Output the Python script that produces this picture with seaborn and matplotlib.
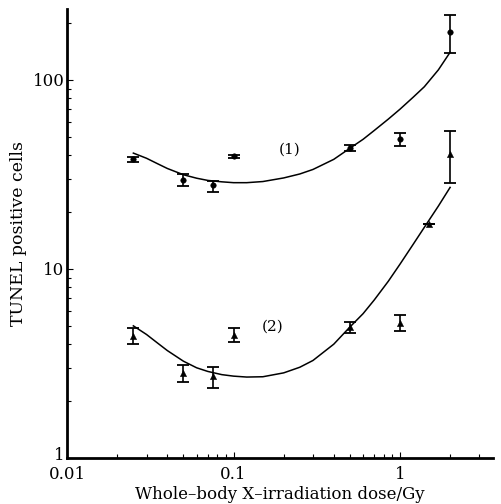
import matplotlib
matplotlib.use('Agg')
import matplotlib.pyplot as plt
import matplotlib.transforms as mtransforms
import seaborn as sns
import pandas as pd
from matplotlib.ticker import LogLocator, NullFormatter, FixedLocator, FixedFormatter

# valores
dose = [0.025, 0.05, 0.075, 0.1, 0.5, 1.0, 2.0]
serie1 = [38.0, 29.6, 27.8, 39.5, 43.7, 48.7, 180.0]
serie1_lo = [37.0, 27.5, 25.6, 38.8, 42.2, 44.8, 139.0]
serie1_hi = [39.0, 31.8, 29.2, 40.2, 45.2, 52.5, 221.0]

dose2 = [0.025, 0.05, 0.075, 0.1, 0.5, 1.0, 1.5, 2.0]
serie2 = [4.4, 2.82, 2.72, 4.48, 4.93, 5.18, 17.3, 40.6]
serie2_lo = [4.0, 2.52, 2.35, 4.11, 4.59, 4.70, 17.3, 28.5]
serie2_hi = [4.9, 3.10, 3.03, 4.87, 5.24, 5.71, 17.3, 53.7]

# curvas ajustadas
curva_x = [0.025, 0.03, 0.035, 0.04, 0.05, 0.06, 0.07, 0.085, 0.1, 0.12, 0.15, 0.2,
           0.25, 0.3, 0.4, 0.5, 0.6, 0.7, 0.85, 1.0, 1.2, 1.4, 1.7, 2.0]
curva1_y = [41.0, 38.5, 36.0, 34.0, 31.5, 30.2, 29.4, 28.9, 28.6, 28.6, 29.0, 30.3,
            31.8, 33.6, 38.0, 43.5, 48.5, 54.0, 62.0, 70.0, 81.0, 92.0, 113.0, 140.0]
curva2_y = [5.0, 4.5, 4.05, 3.7, 3.25, 3.0, 2.87, 2.76, 2.71, 2.68, 2.69, 2.82,
            3.02, 3.28, 4.0, 4.93, 5.8, 6.85, 8.6, 10.6, 13.5, 16.6, 21.5, 27.0]

plt.rcParams['font.family'] = ['DejaVu Serif']

fig = plt.figure(figsize=(5.01, 5.04), dpi=100)
ax = fig.add_axes([0.134, 0.0913, 0.85, 0.8907])

df_c = pd.DataFrame({'x': curva_x + curva_x,
                     'y': curva1_y + curva2_y,
                     'serie': ['1'] * len(curva_x) + ['2'] * len(curva_x)})
sns.lineplot(data=df_c, x='x', y='y', units='serie', estimator=None,
             color='black', lw=1.1, ax=ax)

ax.errorbar(dose, serie1,
            yerr=[[a - b for a, b in zip(serie1, serie1_lo)], [b - a for a, b in zip(serie1, serie1_hi)]],
            fmt='none', ecolor='black', elinewidth=1.2, capsize=4.5, capthick=1.3)
ax.errorbar(dose2, serie2,
            yerr=[[a - b for a, b in zip(serie2, serie2_lo)], [b - a for a, b in zip(serie2, serie2_hi)]],
            fmt='none', ecolor='black', elinewidth=1.2, capsize=4.5, capthick=1.3)

sns.scatterplot(x=dose, y=serie1, marker='o', color='black', s=16, edgecolor='black', ax=ax)
sns.scatterplot(x=dose2, y=serie2, marker='^', color='black', s=20, edgecolor='black', ax=ax)

ax.set_xscale('log')
ax.set_yscale('log')
ax.set_xlim(0.01, 3.62)
ax.set_ylim(1, 237)

ax.xaxis.set_major_locator(FixedLocator([0.01, 0.1, 1]))
ax.xaxis.set_major_formatter(FixedFormatter(['0.01', '0.1', '1']))
ax.yaxis.set_major_locator(FixedLocator([1, 10, 100]))
ax.yaxis.set_major_formatter(FixedFormatter(['1', '10', '100']))
ax.xaxis.set_minor_locator(LogLocator(base=10, subs=range(2, 10)))
ax.yaxis.set_minor_locator(LogLocator(base=10, subs=range(2, 10)))
ax.xaxis.set_minor_formatter(NullFormatter())
ax.yaxis.set_minor_formatter(NullFormatter())
ax.tick_params(which='both', direction='in', width=0.8, labelsize=12)
ax.tick_params(axis='x', pad=6)
ax.tick_params(axis='y', pad=2)
ax.tick_params(which='major', length=4)
ax.tick_params(which='minor', length=3)

for s in ['top', 'right']:
    ax.spines[s].set_visible(False)
for s in ['left', 'bottom']:
    ax.spines[s].set_linewidth(2)

ax.text(0.217, 42.6, '(1)', fontsize=11, ha='center', va='center')
ax.text(0.171, 4.93, '(2)', fontsize=11, ha='center', va='center')

ax.set_xlabel('Whole\u2013body X\u2013irradiation dose/Gy', fontsize=12, labelpad=2)
ax.set_ylabel('TUNEL positive cells', fontsize=12.5, labelpad=4)

# sobe um pouco o rotulo "1" para nao encostar no "0.01"
fig.canvas.draw()
lab1 = ax.yaxis.get_major_ticks()[0].label1
lab1.set_transform(lab1.get_transform() + mtransforms.ScaledTranslation(0, 3 / 72, fig.dpi_scale_trans))

fig.savefig('out.png', dpi=100)
